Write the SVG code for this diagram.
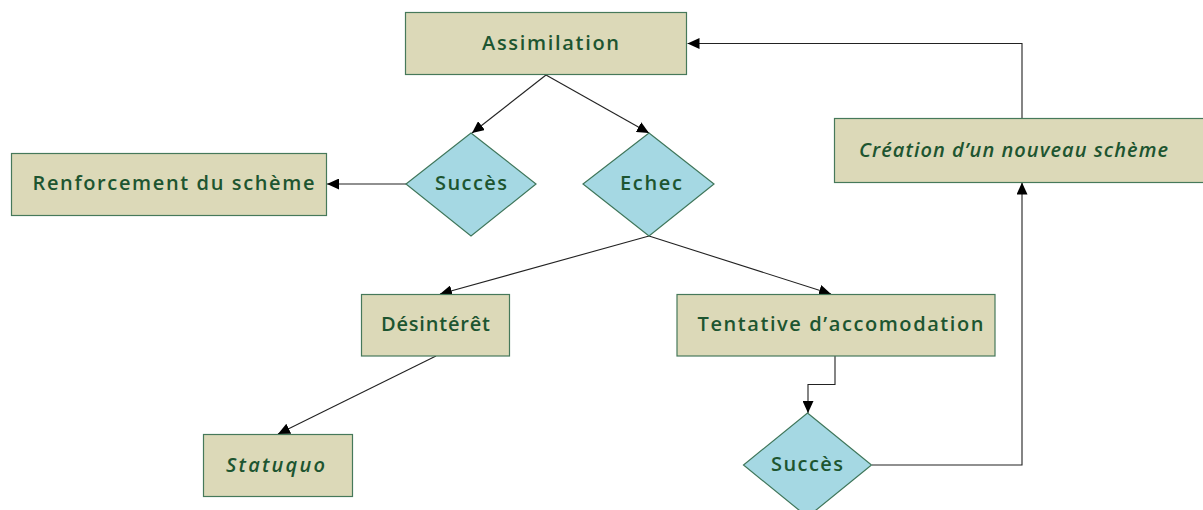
<svg xmlns="http://www.w3.org/2000/svg" width="1203" height="510" viewBox="0 0 1203 510">
  <style>
    .box { fill: #dcd9b8; stroke: #46795a; stroke-width: 1.2; }
    .dia { fill: #a5d8e3; stroke: #3f765a; stroke-width: 1.2; }
    .lbl { font-family: "Open Sans", "DejaVu Sans", "Liberation Sans", sans-serif; font-size: 20px; font-weight: 600; fill: #1d5530; }
    .it { font-style: italic; }
    .conn { fill: none; stroke: #222; stroke-width: 1.1; marker-end: url(#arrow); }
  </style>
  <defs>
    <marker id="arrow" markerUnits="userSpaceOnUse" markerWidth="12" markerHeight="11" refX="12" refY="5.5" orient="auto">
      <path d="M0,0 L12,5.5 L0,11 z" fill="#000"/>
    </marker>
  </defs>
  <rect width="1203" height="510" fill="#ffffff"/>

  <g id="connectors">
    <line class="conn" x1="546" y1="75" x2="472" y2="133"/>
    <line class="conn" x1="546" y1="75" x2="649" y2="133"/>
    <line class="conn" x1="406" y1="184" x2="327" y2="184"/>
    <line class="conn" x1="649" y1="236" x2="440" y2="294"/>
    <line class="conn" x1="649" y1="236" x2="831" y2="294"/>
    <line class="conn" x1="436" y1="356" x2="278" y2="434"/>
    <polyline class="conn" points="835,356 835,384.5 808,384.5 808,413"/>
    <polyline class="conn" points="872,465 1022,465 1022,182.5"/>
    <polyline class="conn" points="1022,118.5 1022,43.5 687.5,43.5"/>
  </g>

  <g id="assimilation">
    <rect class="box" x="405.5" y="12.5" width="281" height="62"/>
    <text class="lbl" x="482" y="50" textLength="137" lengthAdjust="spacing">Assimilation</text>
  </g>
  <g id="succes1">
    <polygon class="dia" points="471,133 536,184 471,236 406,184"/>
    <text class="lbl" x="435" y="190" textLength="72" lengthAdjust="spacing">Succès</text>
  </g>
  <g id="echec">
    <polygon class="dia" points="649,133 714,184 649,236 583,184"/>
    <text class="lbl" x="620" y="190" textLength="62" lengthAdjust="spacing">Echec</text>
  </g>
  <g id="renforcement">
    <rect class="box" x="11.5" y="153.5" width="315" height="62"/>
    <text class="lbl" x="32.5" y="190" textLength="282" lengthAdjust="spacing">Renforcement du schème</text>
  </g>
  <g id="creation">
    <rect class="box" x="834.5" y="118.5" width="372" height="64"/>
    <text class="lbl it" x="859" y="157" textLength="309" lengthAdjust="spacing">Création d’un nouveau schème</text>
  </g>
  <g id="desinteret">
    <rect class="box" x="361.5" y="294.5" width="148" height="61.5"/>
    <text class="lbl" x="381" y="331" textLength="109" lengthAdjust="spacing">Désintérêt</text>
  </g>
  <g id="tentative">
    <rect class="box" x="677" y="294.5" width="318" height="61.5"/>
    <text class="lbl" x="697.5" y="331" textLength="286" lengthAdjust="spacing">Tentative d’accomodation</text>
  </g>
  <g id="statuquo">
    <rect class="box" x="203.5" y="434.5" width="149" height="62"/>
    <text class="lbl it" x="226" y="472" textLength="99" lengthAdjust="spacing">Statuquo</text>
  </g>
  <g id="succes2">
    <polygon class="dia" points="807.5,413 871.5,465 807.5,517 743.5,465"/>
    <text class="lbl" x="771" y="471" textLength="72" lengthAdjust="spacing">Succès</text>
  </g>
</svg>
